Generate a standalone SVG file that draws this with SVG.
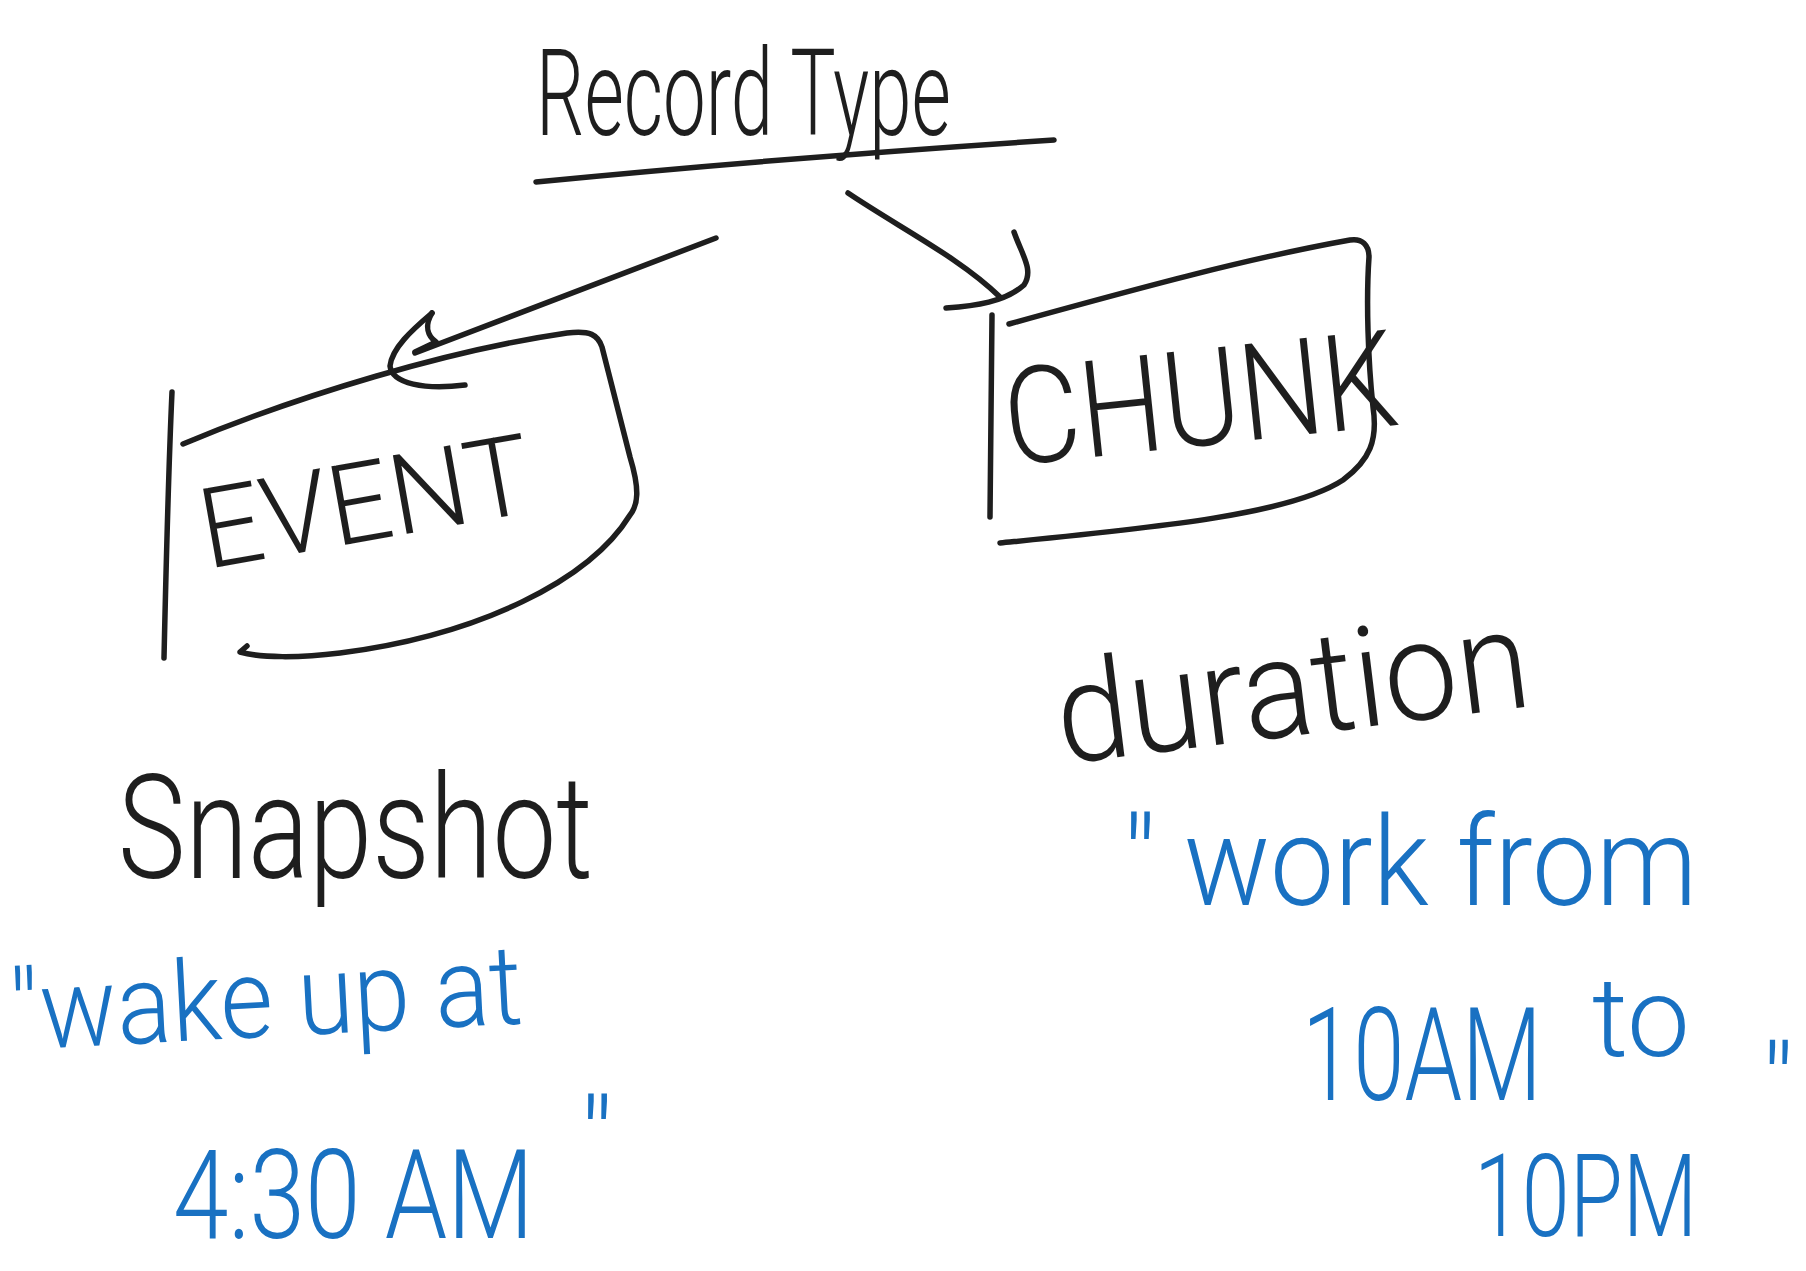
<svg xmlns="http://www.w3.org/2000/svg" width="1806" height="1271" viewBox="0 0 1806 1271">
<style>
.ink{fill:none;stroke:#1e1e1e;stroke-width:5.5;stroke-linecap:round;stroke-linejoin:round}
.t{font-family:Roboto,"Liberation Sans",sans-serif;font-weight:300;fill:#1e1e1e}
.b{fill:#1971c2}
</style>
<rect width="1806" height="1271" fill="#ffffff"/>
<g id="record-type">
<text class="t" transform="translate(536,135) scale(0.635,1)" font-size="120">Record Type</text>
<path class="ink" d="M536,182 Q780,158 1054,140"/>
</g>
<g id="connectors">
<path class="ink" d="M716,238 L415,353"/>
<path class="ink" d="M432,313 C412,330 392,348 390,366 C392,384 425,390 465,385"/>
<path class="ink" d="M432,313 C424,326 428,336 436,342 L415,352"/>
<path class="ink" d="M848,193 C900,228 960,258 1000,297"/>
<path class="ink" d="M1014,232 C1022,255 1034,270 1024,285 C1005,302 975,306 946,308"/>
</g>
<g id="event">
<path class="ink" d="M172,392 C168,480 166,570 164,658"/>
<path class="ink" d="M183,444 C300,395 450,350 567,333 C590,330 598,335 602,347 L630,457 C640,490 638,505 630,515 C590,580 480,635 340,653 C300,658 260,658 240,652 L247,646"/>
<text class="t" transform="translate(372,540) rotate(-10) scale(0.98,1)" text-anchor="middle" font-size="112">EVENT</text>
</g>
<g id="chunk">
<path class="ink" d="M992,315 L990,517"/>
<path class="ink" d="M1009,324 C1150,285 1250,258 1350,240 C1362,238 1369,245 1369,257 C1366,300 1368,360 1373,407 C1378,440 1370,460 1343,480 C1290,515 1150,528 1000,543"/>
<text class="t" transform="translate(1205,445) rotate(-6) scale(0.87,1)" text-anchor="middle" font-size="135">CHUNK</text>
</g>
<g id="snapshot">
<text class="t" transform="translate(118,878) scale(0.785,1)" font-size="145">Snapshot</text>
<text class="t b" transform="translate(12,1050) rotate(-3) scale(0.91,1)" font-size="112">"wake up at</text>
<text class="t b" transform="translate(173,1238) scale(0.8,1)" font-size="125">4:30 AM</text>
<text class="t b" x="580" y="1180" font-size="115">"</text>
</g>
<g id="duration">
<text class="t" transform="translate(1298,735) rotate(-7) scale(0.94,1)" text-anchor="middle" font-size="140">duration</text>
<text class="t b" transform="translate(1123,905) scale(0.915,1)" font-size="125">" work from</text>
<text class="t b" transform="translate(1302,1100) scale(0.71,1)" font-size="130">10AM</text>
<text class="t b" x="1592" y="1056" font-size="112">to</text>
<text class="t b" x="1762" y="1122" font-size="110">"</text>
<text class="t b" transform="translate(1474,1236) scale(0.75,1)" font-size="115">10PM</text>
</g>
</svg>
